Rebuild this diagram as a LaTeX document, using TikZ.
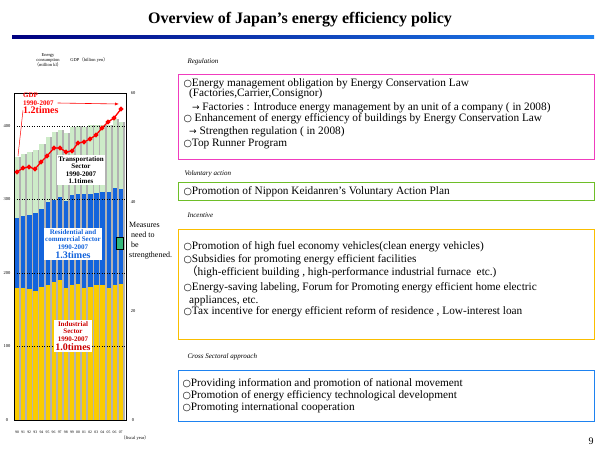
\documentclass[tikz,border=0pt]{standalone}
\usepackage{fontspec}
\setmainfont{Liberation Serif}
\newfontfamily\symf{DejaVu Sans}
\newfontfamily\cjk{Noto Sans CJK JP}
\usetikzlibrary{positioning,arrows.meta}
\newcommand{\bul}{{\symf\scalebox{0.85}{○}}}
\newcommand{\arr}{{\symf\scalebox{0.8}{→}}}
\newcommand{\lp}{{\cjk （}}
\newcommand{\rp}{{\cjk ）}}
\definecolor{indy}{RGB}{250,204,0}
\definecolor{resb}{RGB}{20,100,220}
\definecolor{trag}{RGB}{205,235,200}
\definecolor{regc}{RGB}{240,60,190}
\definecolor{volc}{RGB}{110,190,40}
\definecolor{incc}{RGB}{250,190,0}
\definecolor{crsc}{RGB}{30,130,240}
\begin{document}
\begin{tikzpicture}[x=1pt,y=-1pt,
  cat/.style={anchor=west,font=\fontsize{7}{8}\selectfont\itshape},
  item/.style={anchor=north west,align=left,font=\fontsize{11.3}{12.8}\selectfont},
  tick/.style={font=\fontsize{4.5}{5}\selectfont},
  tag/.style={fill=white,align=center,font=\fontsize{7}{7.5}\selectfont\bfseries,inner sep=1pt}]
\useasboundingbox (0,0) rectangle (600,450);
% title
\node (title) at (300,20) {\fontsize{16}{18}\selectfont\bfseries Overview of Japan’s energy efficiency policy};
\shade[left color=blue!50!black,right color=crsc] (12,35) rectangle (594,38);
% chart
\node[tick,align=center] (econs) at (48,60) {Energy\\consumption\\\lp million kl\rp};
\node[tick,right=2pt of econs] (gdpax) {GDP\lp billion yen\rp};
\foreach \v/\l in {0/0,100/100,200/200,300/300,400/400}
  \node[tick] at (7,{420-0.735*\v}) {\l};
\foreach \v/\l in {0/0,20/20,40/40,60/60}
  \node[tick] at (133,{420-5.45*\v}) {\l};
\foreach \n [count=\i from 0] in {ind/180/275/358,x/180/277/362,x/178/279/364,x/176/281/367,x/181/287/375,x/184/296/385,x/188/300/392,x/190/303/395,x/180/298/390,x/184/306/398,x/185/308/400,x/179/307/398,x/181/308/401,x/183/309/401,x/184/310/402,x/180/310/402,x/184/315/410,x/185/314/406}{
  \pgfmathsetmacro{\bx}{15+6.1*\i}
  \foreach \a/\b/\c/\d in \n {
    \fill[gray!60] (\bx,420) rectangle ({\bx+6.1},{420-0.735*\d});
    \fill[indy] (\bx,420) rectangle ({\bx+4.3},{420-0.735*\b});
    \fill[resb] (\bx,{420-0.735*\b}) rectangle ({\bx+4.3},{420-0.735*\c});
    \fill[trag] (\bx,{420-0.735*\c}) rectangle ({\bx+4.3},{420-0.735*\d});
  }}
\foreach \v in {100,200,300,400}
  \draw[dash pattern=on 1pt off 1.5pt,line width=0.2pt] (14,{420-0.735*\v}) -- (126,{420-0.735*\v});
\draw[line width=0.5pt] (14,93) rectangle (126,420);
\foreach \y [count=\i from 0] in {90,91,92,93,94,95,96,97,98,99,00,01,02,03,04,05,06,07}
  \node[tick,font=\fontsize{3.8}{4}\selectfont] at ({17+6.1*\i},432) {\y};
\node[tick] (fyear) at (135,438) {\lp fiscal year\rp};
% GDP line
\draw[red,line width=1.3pt,mark=*] plot[mark size=1.6pt] coordinates {(17,172) (23,168) (29,167) (35,169) (41,162) (47,156) (54,148) (60,148) (66,152) (72,151) (78,143) (84,142) (90,139) (96,135) (102,128) (108,122) (114,118) (121,109)};
\node[red,align=left,anchor=west,font=\fontsize{7}{8}\selectfont\bfseries,inner sep=0pt] (gdplab) at (23,99) {GDP\\1990-2007};
\node[red,font=\fontsize{10}{11}\selectfont\bfseries,inner sep=0pt,below=1pt of gdplab.south west,anchor=north west] (gdpx) {1.2times};
\coordinate (gdpend) at (119,104);
\coordinate (gdpstart) at (18,156);
\draw[red,-{Latex[length=4pt]},line width=0.6pt] (gdplab.east) ++(4,4) -- (gdpend);
\draw[red,line width=0.5pt] (gdpx.west) -- (gdpstart);
\node[tag] (trans) at (81,170) {Transportation\\Sector\\1990-2007\\1.1times};
\node[tag,text=resb] (resid) at (73,244) {Residential and\\commercial Sector\\1990-2007\\[2pt]{\fontsize{10}{11}\selectfont 1.3times}};
\node[tag,text=red!80!black] (indus) at (73,336) {Industrial\\Sector\\1990-2007\\[2pt]{\fontsize{10}{11}\selectfont 1.0times}};
\node[draw,fill=teal!70!green!80,minimum width=7pt,minimum height=12pt,inner sep=0pt] (mark) at (120,243) {};
\node[align=left,anchor=north west,font=\fontsize{8}{10}\selectfont,inner sep=0pt] (measure) at (129,222) {Measures\\\ need to\\\ be\\strengthened.};
% policy boxes
\node[cat] (reg) at (184,62) {Regulation};
\draw[regc,line width=1pt] (178,74) rectangle (594,159);
\node[item] (regt) at (180,75) {\bul Energy management obligation by Energy Conservation Law\\[-3pt]
\ \ (Factories,Carrier,Consignor)\\[2pt]
\ \ \ \arr\ Factories : Introduce energy management by an unit of a company ( in 2008)\\[-2pt]
\bul\ Enhancement of energy efficiency of buildings by Energy Conservation Law\\
\ \ \arr\ Strengthen regulation ( in 2008)\\[-1pt]
\bul Top Runner Program};
\node[cat] (vol) at (181,174) {Voluntary action};
\draw[volc,line width=1pt] (178,182) rectangle (594,200);
\node[item] (volt) at (180,183) {\bul Promotion of Nippon Keidanren’s Voluntary Action Plan};
\node[cat] (inc) at (184,215) {Incentive};
\draw[incc,line width=1pt] (178,229) rectangle (594,339);
\node[item,font=\fontsize{11.3}{14}\selectfont] (inct) at (180,238) {\bul Promotion of high fuel economy vehicles(clean energy vehicles)\\[-1pt]
\bul Subsidies for promoting energy efficient facilities\\[-1pt]
\ \lp high-efficient building , high-performance industrial furnace\ \ etc.)\\[1pt]
\bul Energy-saving labeling, Forum for Promoting energy efficient home electric\\[-1pt]
\ \ appliances, etc.\\[-3pt]
\bul Tax incentive for energy efficient reform of residence , Low-interest loan};
\node[cat] (crs) at (184,357) {Cross Sectoral approach};
\draw[crsc,line width=1pt] (178,370) rectangle (594,421);
\node[item] (crst) at (179,375) {\bul Providing information and promotion of national movement\\[-1pt]
\bul Promotion of energy efficiency technological development\\[-1pt]
\bul Promoting international cooperation};
\node (page) at (591,441) {\fontsize{10}{11}\selectfont 9};
\end{tikzpicture}
\end{document}
